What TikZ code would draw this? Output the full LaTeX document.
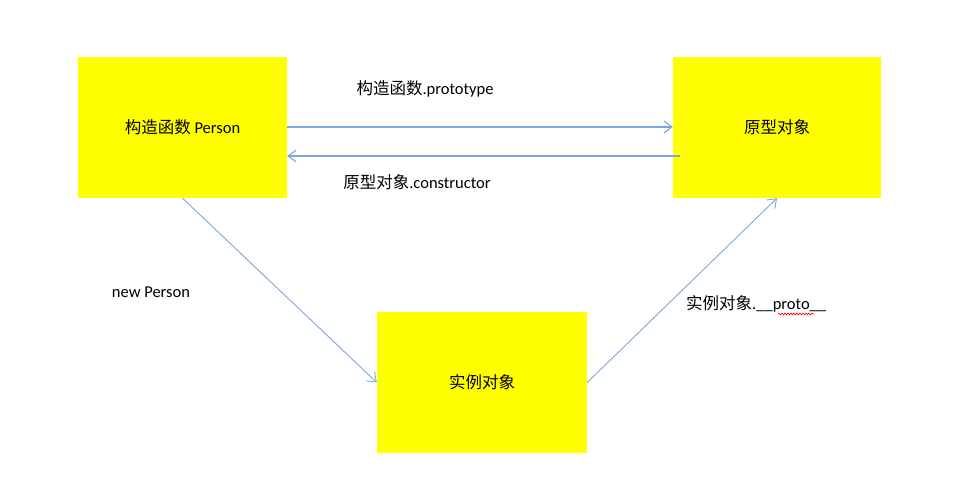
\documentclass[tikz,border=0pt]{standalone}
\usepackage{fontspec}
\setmainfont{Carlito}
\newfontfamily\cjk{Noto Sans CJK SC}
\usetikzlibrary{arrows.meta,decorations.pathmorphing}
\definecolor{boxyellow}{RGB}{255,255,0}
\definecolor{linkblue}{RGB}{120,168,222}
\begin{document}
\begin{tikzpicture}[x=1pt,y=-1pt,
  box/.style={fill=boxyellow,draw=none,minimum height=141pt,inner sep=0pt,font=\fontsize{16.5}{19}\selectfont},
  lbl/.style={inner sep=0pt,font=\fontsize{16.5}{19}\selectfont},
  link/.style={draw=linkblue,line width=1.1pt,-{Straight Barb[length=8pt,width=12pt]}}]
\useasboundingbox (0,0) rectangle (978,494);
\node[box,minimum width=209pt] (b1) at (182.5,127.5) {{\cjk 构造函数} Person};
\node[box,minimum width=208pt] (b2) at (777,127.5) {\cjk 原型对象};
\node[box,minimum width=210pt] (b3) at (482,382.5) {\cjk 实例对象};
\node[lbl] (l1) at (425,89) {{\cjk 构造函数}.prototype};
\node[lbl] (l2) at (417,182) {{\cjk 原型对象}.constructor};
\node[lbl] (l3) at (151,292) {new Person};
\node[lbl,anchor=west] (l4) at (686,304) {{\cjk 实例对象}.\_\_proto\_\_};
\draw[link] ([yshift=0.5pt]b1.east) -- ([yshift=0.5pt]b2.west);
\draw[link] ([xshift=7pt,yshift=-28.5pt]b2.west) -- ([yshift=-28.5pt]b1.east);
\draw[link,line width=0.9pt] (b1.south) -- (b3.west);
\draw[link,line width=0.9pt] (b3.east) -- (b2.south);
\draw[red,line width=0.6pt,decorate,decoration={snake,amplitude=1pt,segment length=3pt}] (778,314) -- (814,314);
\end{tikzpicture}
\end{document}
